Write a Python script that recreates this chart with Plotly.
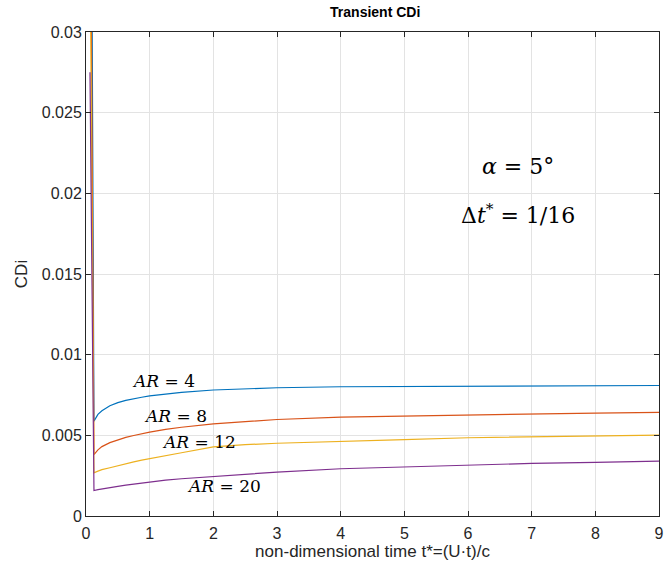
import plotly.graph_objects as go

# Non-dimensional time samples (t* = U t / c, step 1/16)
t_star = [0.0625, 0.125, 0.1875, 0.25, 0.375, 0.5, 0.625, 0.75, 0.875, 1.0, 1.25,
          1.5, 2.0, 2.5, 3.0, 4.0, 5.0, 6.0, 7.0, 8.0, 9.0]

# Induced drag coefficient for each aspect ratio
cdi_ar4 = [0.060, 0.00588, 0.00630, 0.00652, 0.00683, 0.00703, 0.00717, 0.00728, 0.00736,
           0.00745, 0.00756, 0.00766, 0.00781, 0.00789, 0.00795, 0.00801, 0.00803, 0.00805,
           0.00806, 0.00808, 0.00809]
cdi_ar8 = [0.045, 0.00381, 0.00410, 0.00430, 0.00455, 0.00472, 0.00487, 0.00499, 0.00510,
           0.00520, 0.00537, 0.00550, 0.00571, 0.00586, 0.00598, 0.00613, 0.00620, 0.00628,
           0.00634, 0.00638, 0.00642]
cdi_ar12 = [0.036, 0.00268, 0.00278, 0.00287, 0.00299, 0.00312, 0.00324, 0.00335, 0.00346,
            0.00356, 0.00375, 0.00392, 0.00428, 0.00442, 0.00451, 0.00464, 0.00473, 0.00485,
            0.00491, 0.00496, 0.00501]
cdi_ar20 = [0.0275, 0.00158, 0.00163, 0.00168, 0.00176, 0.00184, 0.00191, 0.00198, 0.00205,
            0.00212, 0.00222, 0.00231, 0.00245, 0.00260, 0.00272, 0.00293, 0.00305, 0.00317,
            0.00326, 0.00333, 0.00340]

series = [
    ("AR = 4", cdi_ar4, "#0072BD"),
    ("AR = 8", cdi_ar8, "#D95319"),
    ("AR = 12", cdi_ar12, "#EDB120"),
    ("AR = 20", cdi_ar20, "#7E2F8E"),
]

x_ticks = [0, 1, 2, 3, 4, 5, 6, 7, 8, 9]
y_ticks = [0, 0.005, 0.01, 0.015, 0.02, 0.025, 0.03]
y_tick_text = ["0", "0.005", "0.01", "0.015", "0.02", "0.025", "0.03"]

fig = go.Figure()
for name, vals, color in series:
    fig.add_trace(go.Scatter(x=t_star, y=vals, mode="lines", name=name,
                             line=dict(color=color, width=1.2)))

axis_color = "#262626"
grid_color = "#e3e3e3"
sans = "Liberation Sans, Arial, sans-serif"
serif = "DejaVu Serif, serif"

fig.update_layout(
    width=667, height=570,
    margin=dict(l=86, r=3, t=32, b=54),
    paper_bgcolor="white", plot_bgcolor="white",
    showlegend=False,
    title=dict(text="<b>Transient CDi</b>", x=0.5625, xanchor="center",
               y=0.987, yanchor="top", font=dict(family=sans, size=14, color="black")),
    font=dict(family=sans, color=axis_color),
)

fig.update_xaxes(
    range=[0, 9], tickvals=x_ticks, ticktext=[str(v) for v in x_ticks],
    showgrid=True, gridcolor=grid_color, gridwidth=1,
    showline=True, linecolor=axis_color, linewidth=1, mirror="ticks",
    ticks="inside", ticklen=5, tickcolor=axis_color,
    ticklabeloverflow="allow", ticklabelstandoff=3,
    tickfont=dict(family=sans, size=16, color=axis_color),
    title=dict(text="non-dimensional time t*=(U·t)/c", standoff=3,
               font=dict(family=sans, size=17, color=axis_color)),
    zeroline=False,
)
fig.update_yaxes(
    range=[0, 0.03], tickvals=y_ticks, ticktext=y_tick_text,
    showgrid=True, gridcolor=grid_color, gridwidth=1,
    showline=True, linecolor=axis_color, linewidth=1, mirror="ticks",
    ticks="inside", ticklen=5, tickcolor=axis_color,
    ticklabeloverflow="allow",
    tickfont=dict(family=sans, size=16, color=axis_color),
    title=dict(text="CDi", standoff=9,
               font=dict(family=sans, size=17, color=axis_color)),
    zeroline=False,
)

# Curve labels and case parameters
labels = [
    (1.215, 0.00834, "<i>AR</i> = 4", 17),
    (1.41, 0.00617, "<i>AR</i> = 8", 17),
    (1.776, 0.00456, "<i>AR</i> = 12", 17),
    (2.17, 0.00183, "<i>AR</i> = 20", 17),
    (6.78, 0.02167, "<i>α</i> = 5°", 22),
    (6.78, 0.01872, "Δ<i>t</i><sup>*</sup> = 1/16", 22),
]
for x, y, txt, size in labels:
    fig.add_annotation(x=x, y=y, text=txt, showarrow=False,
                       xanchor="center", yanchor="middle",
                       font=dict(family=serif, size=size, color="black"))

fig.write_html("out.html")
